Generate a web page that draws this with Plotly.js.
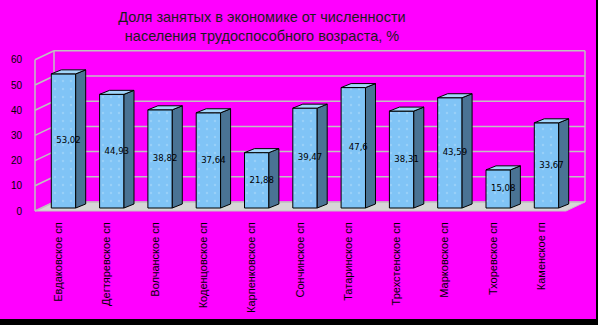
<!DOCTYPE html>
<html>
<head>
<meta charset="utf-8">
<script src="https://cdn.plot.ly/plotly-3.0.1.min.js"></script>
<style>
html,body{margin:0;padding:0;background:#000;width:598px;height:325px;overflow:hidden;}
#chart{width:596px;height:319px;}
</style>
</head>
<body>
<div id="chart"></div>
<script>
// ---- data ----
const categories = ['Евдаковское сп','Дегтяревское сп','Волчанское сп','Коденцовское сп','Карпенковское сп','Сончинское сп','Татаринское сп','Трехстенское сп','Марковское сп','Тхоревское сп','Каменское гп'];
const values = [53.02, 44.93, 38.82, 37.64, 21.88, 39.47, 47.6, 38.31, 43.59, 15.08, 33.67];
const yTicks = [0, 10, 20, 30, 40, 50, 60];
const titleText = 'Доля занятых в экономике от численности<br>населения трудоспособного возраста, %';

// ---- styling / geometry constants ----
const W = 596, H = 319;
const M = {l: 35, r: 11, t: 45, b: 105};
const plotW = W - M.l - M.r, plotH = H - M.t - M.b;
const pxPerCat = 48.3;
const xr0 = -0.59, xr1 = xr0 + plotW / pxPerCat;
const kGrid = 2.52, kBar = 2.53;
const gridLo = -12 / kGrid, gridHi = gridLo + plotH / kGrid;
const barLo = -6 / kBar, barHi = barLo + plotH / kBar;
const barW = 0.505;
const dx = 10 / pxPerCat, dy = 4 / kBar;
const wallDx = 19 / plotW;        // depth of wall in paper units
const frontDy = 9 / kGrid;        // front edge offset in grid-axis units

const xIdx = categories.map((_, i) => i);

// bar faces
const sideX = [], sideY = [], topX = [], topY = [];
values.forEach((v, i) => {
  const xl = i - barW / 2, xr = i + barW / 2;
  sideX.push(xr, xr + dx, xr + dx, xr, xr, null);
  sideY.push(0, dy, v + dy, v, 0, null);
  topX.push(xl, xl + dx, xr + dx, xr, xl, null);
  topY.push(v, v + dy, v + dy, v, v, null);
});

const traces = [
  {
    type: 'bar', x: xIdx, y: values, width: barW, yaxis: 'y2',
    marker: {color: '#80C4F6', line: {color: '#000', width: 1},
             pattern: {shape: '.', fgcolor: '#98D0F8', bgcolor: '#80C4F6', size: 8, solidity: 0.08}},
    hoverinfo: 'skip', showlegend: false
  },
  {
    type: 'scatter', x: sideX, y: sideY, yaxis: 'y2', mode: 'lines', fill: 'toself',
    fillcolor: '#4A7394', line: {color: '#000', width: 1}, hoverinfo: 'skip', showlegend: false
  },
  {
    type: 'scatter', x: topX, y: topY, yaxis: 'y2', mode: 'lines', fill: 'toself',
    fillcolor: '#A2D6FA', line: {color: '#000', width: 1}, hoverinfo: 'skip', showlegend: false
  },
  {
    type: 'scatter', x: xIdx.map(i => i + dx / 2), y: values.map(v => v / 2), yaxis: 'y2',
    mode: 'text', text: values.map(v => String(v).replace('.', ',')),
    textfont: {family: '"Liberation Sans Narrow", "Arial Narrow", "DejaVu Sans Condensed", sans-serif', size: 9.5, color: '#000'},
    hoverinfo: 'skip', showlegend: false
  }
];

// walls, floor and gridlines as frame decoration
const gridColor = '#C0C0C0';
const shapes = [];
shapes.push({type: 'path', xref: 'paper', yref: 'y', layer: 'below',
  path: `M 0,${-frontDy} L ${wallDx},0 L 1,0 L ${1 - wallDx},${-frontDy} Z`,
  fillcolor: '#D6D6D6', line: {color: '#C4C4C4', width: 1}});
yTicks.forEach(t => {
  shapes.push({type: 'line', xref: 'paper', yref: 'y', layer: 'below',
    x0: wallDx, x1: 1, y0: t, y1: t, line: {color: gridColor, width: 1.5}});
  shapes.push({type: 'line', xref: 'paper', yref: 'y', layer: 'below',
    x0: 0, x1: wallDx, y0: t - frontDy, y1: t, line: {color: gridColor, width: 1.5}});
});
const yMax = yTicks[yTicks.length - 1];
shapes.push({type: 'line', xref: 'paper', yref: 'y', layer: 'below',
  x0: 0, x1: 0, y0: -frontDy, y1: yMax - frontDy, line: {color: gridColor, width: 1.5}});
shapes.push({type: 'line', xref: 'paper', yref: 'y', layer: 'below',
  x0: wallDx, x1: wallDx, y0: 0, y1: yMax, line: {color: gridColor, width: 1.5}});
shapes.push({type: 'line', xref: 'paper', yref: 'y', layer: 'below',
  x0: 1, x1: 1, y0: 0, y1: yMax, line: {color: gridColor, width: 1.5}});

const layout = {
  width: W, height: H,
  margin: M,
  paper_bgcolor: '#FF00FF',
  plot_bgcolor: 'rgba(0,0,0,0)',
  font: {family: '"Liberation Sans", Arial, sans-serif', color: '#000'},
  title: {
    text: titleText,
    font: {family: '"Liberation Sans", Arial, sans-serif', size: 14.5, color: '#1c1c1c'},
    x: 262 / W, xanchor: 'center', xref: 'container',
    y: 1 - 22 / H, yanchor: 'top', yref: 'container'
  },
  xaxis: {
    range: [xr0, xr1], tickmode: 'array', tickvals: xIdx, ticktext: categories,
    tickangle: -90, tickfont: {size: 11, color: '#000'}, ticks: '',
    showgrid: false, zeroline: false, showline: false, fixedrange: true,
    ticklabelshift: -5, ticklabelstandoff: 5
  },
  yaxis: {
    range: [gridLo, gridHi], tickmode: 'array', tickvals: yTicks,
    tickfont: {size: 10, color: '#000'}, ticks: '',
    showgrid: false, zeroline: false, showline: false, fixedrange: true,
    ticklabelshift: 9, ticklabelstandoff: 12
  },
  yaxis2: {
    range: [barLo, barHi], overlaying: 'y', side: 'left', visible: false, fixedrange: true
  },
  shapes: shapes,
  hovermode: false,
  showlegend: false
};

Plotly.newPlot('chart', traces, layout, {displayModeBar: false, staticPlot: true});
</script>
</body>
</html>
